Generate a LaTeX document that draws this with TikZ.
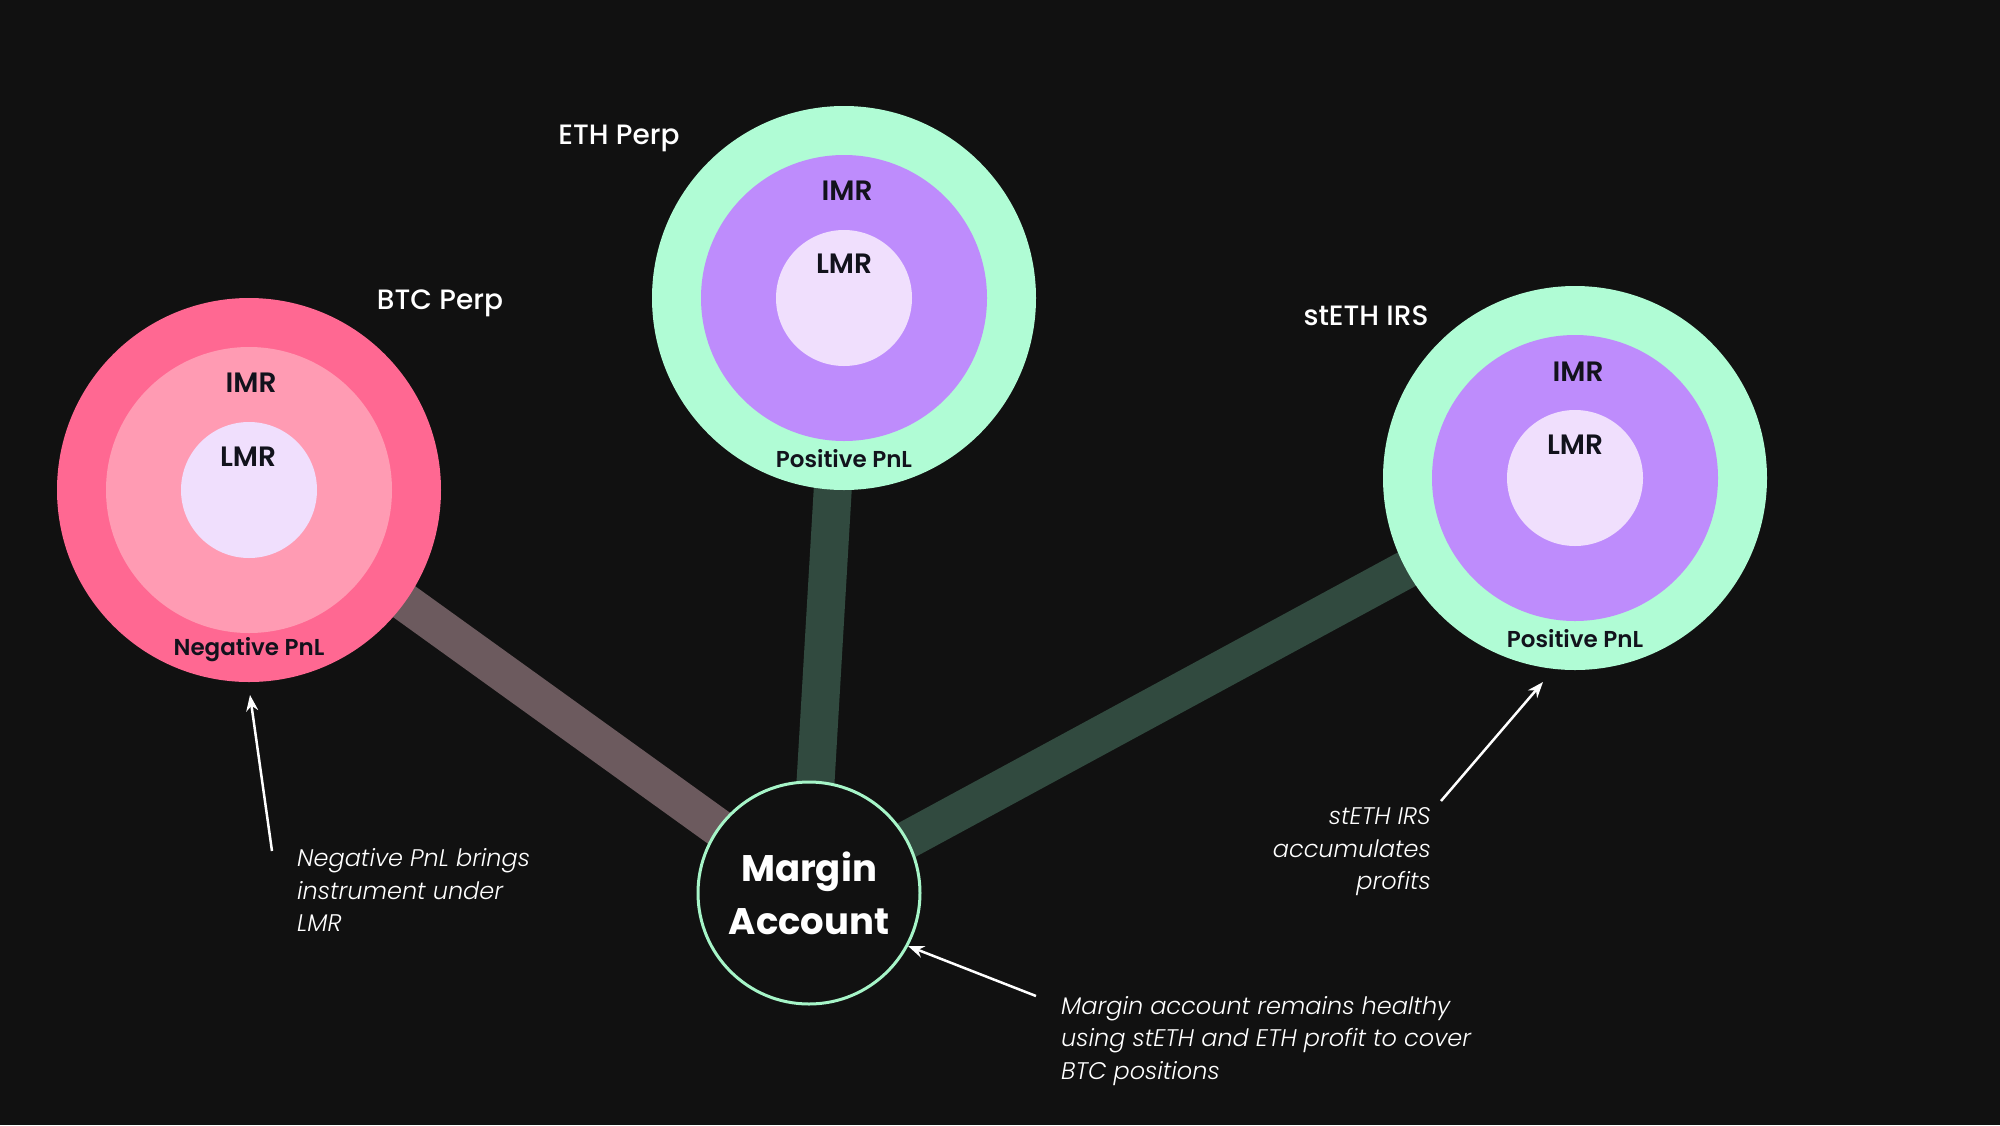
\documentclass[tikz,border=0pt]{standalone}
\usepackage{fontspec}
\setmainfont{Poppins}
\newfontfamily\semifont{Poppins SemiBold}
\newfontfamily\mediumfont{Poppins Medium}
\newfontfamily\notefont{Poppins Light Italic}
\usetikzlibrary{arrows.meta,backgrounds}
\pgfdeclarelayer{backdrop}
\pgfsetlayers{backdrop,background,main}

\definecolor{bgdark}{HTML}{111111}
\definecolor{btcouter}{HTML}{FF6892}
\definecolor{btcmid}{HTML}{FF9BB3}
\definecolor{mintouter}{HTML}{B0FCD5}
\definecolor{purplemid}{HTML}{BE8CFC}
\definecolor{lmrfill}{HTML}{F0DFFD}
\definecolor{textdark}{HTML}{12121C}
\definecolor{redbar}{HTML}{6C5A5E}
\definecolor{greenbar}{HTML}{314A3F}
\definecolor{mintline}{HTML}{A6F5C8}

\begin{document}
\begin{tikzpicture}[x=1pt, y=-1pt,
    ring/.style = {circle, draw=none, inner sep=0pt},
    title/.style = {text=white, font=\fontsize{28}{34}\selectfont\mediumfont, inner sep=0pt},
    layer/.style = {text=textdark, font=\fontsize{28}{34}\selectfont\semifont, inner sep=0pt},
    pnl/.style = {text=textdark, font=\fontsize{23}{28}\selectfont\semifont, inner sep=0pt},
    note/.style = {text=white, font=\fontsize{24}{32.5}\selectfont\notefont, inner sep=0pt},
    pointer/.style = {draw=white, line width=2.5pt, -{Stealth[length=16pt,width=12pt]}},
    bar/.style = {line width=38pt}]
    \useasboundingbox (0,0) rectangle (2000,1125);
    \begin{pgfonlayer}{backdrop}
        \fill[bgdark] (0,0) rectangle (2000,1125);
    \end{pgfonlayer}

    % BTC Perp
    \node[ring, fill=btcouter, minimum size=384pt] (btc) at (249,490) {};
    \node[ring, fill=btcmid, minimum size=286pt] (btcimr) at (btc.center) {};
    \node[ring, fill=lmrfill, minimum size=136pt] (btclmr) at (btc.center) {};
    \node[layer] (btcimrlabel) at (251,383) {IMR};
    \node[layer] (btclmrlabel) at (248,457) {LMR};
    \node[pnl] (btcpnl) at (249,650) {Negative PnL};
    \node[title] (btctitle) at (440,303) {BTC Perp};

    % ETH Perp
    \node[ring, fill=mintouter, minimum size=384pt] (eth) at (844,298) {};
    \node[ring, fill=purplemid, minimum size=286pt] (ethimr) at (eth.center) {};
    \node[ring, fill=lmrfill, minimum size=136pt] (ethlmr) at (eth.center) {};
    \node[layer] (ethimrlabel) at (847,191) {IMR};
    \node[layer] (ethlmrlabel) at (844,264) {LMR};
    \node[pnl] (ethpnl) at (844,459) {Positive PnL};
    \node[title] (ethtitle) at (619,138) {ETH Perp};

    % stETH IRS
    \node[ring, fill=mintouter, minimum size=384pt] (steth) at (1575,478) {};
    \node[ring, fill=purplemid, minimum size=286pt] (stethimr) at (steth.center) {};
    \node[ring, fill=lmrfill, minimum size=136pt] (stethlmr) at (steth.center) {};
    \node[layer] (stethimrlabel) at (1578,372) {IMR};
    \node[layer] (stethlmrlabel) at (1575,445) {LMR};
    \node[pnl] (stethpnl) at (1575,639) {Positive PnL};
    \node[title] (stethtitle) at (1366,316) {stETH IRS};

    % margin account
    \node[circle, draw=mintline, line width=3pt, fill=bgdark, minimum size=222pt, inner sep=0pt,
        text=white, align=center, font=\fontsize{37}{53}\selectfont\bfseries] (margin) at (809,893) {Margin\\Account};

    \begin{pgfonlayer}{background}
        \draw[bar, redbar] (btc.center) -- (margin.center);
        \draw[bar, greenbar] (eth.center) -- (margin.center);
        \draw[bar, greenbar] (steth.center) -- (margin.center);
    \end{pgfonlayer}

    % notes
    \node[note, anchor=west, align=left] (btcnote) at (297,890)
        {Negative PnL brings\\instrument under\\LMR};
    \node[note, anchor=east, align=right] (stethnote) at (1431,852)
        {stETH IRS\\accumulates\\profits};
    \node[note, anchor=west, align=left] (marginnote) at (1061,1041)
        {Margin account remains healthy\\using stETH and ETH profit to cover\\BTC positions};

    \coordinate (btctail) at (272,851);
    \coordinate (btctip) at (250,695);
    \coordinate (stethtail) at (1441,801);
    \coordinate (stethtip) at (1543,682);
    \coordinate (margintail) at (1036,996);
    \coordinate (margintip) at (908,946);
    \draw[pointer] (btctail) -- (btctip);
    \draw[pointer] (stethtail) -- (stethtip);
    \draw[pointer] (margintail) -- (margintip);
\end{tikzpicture}
\end{document}
